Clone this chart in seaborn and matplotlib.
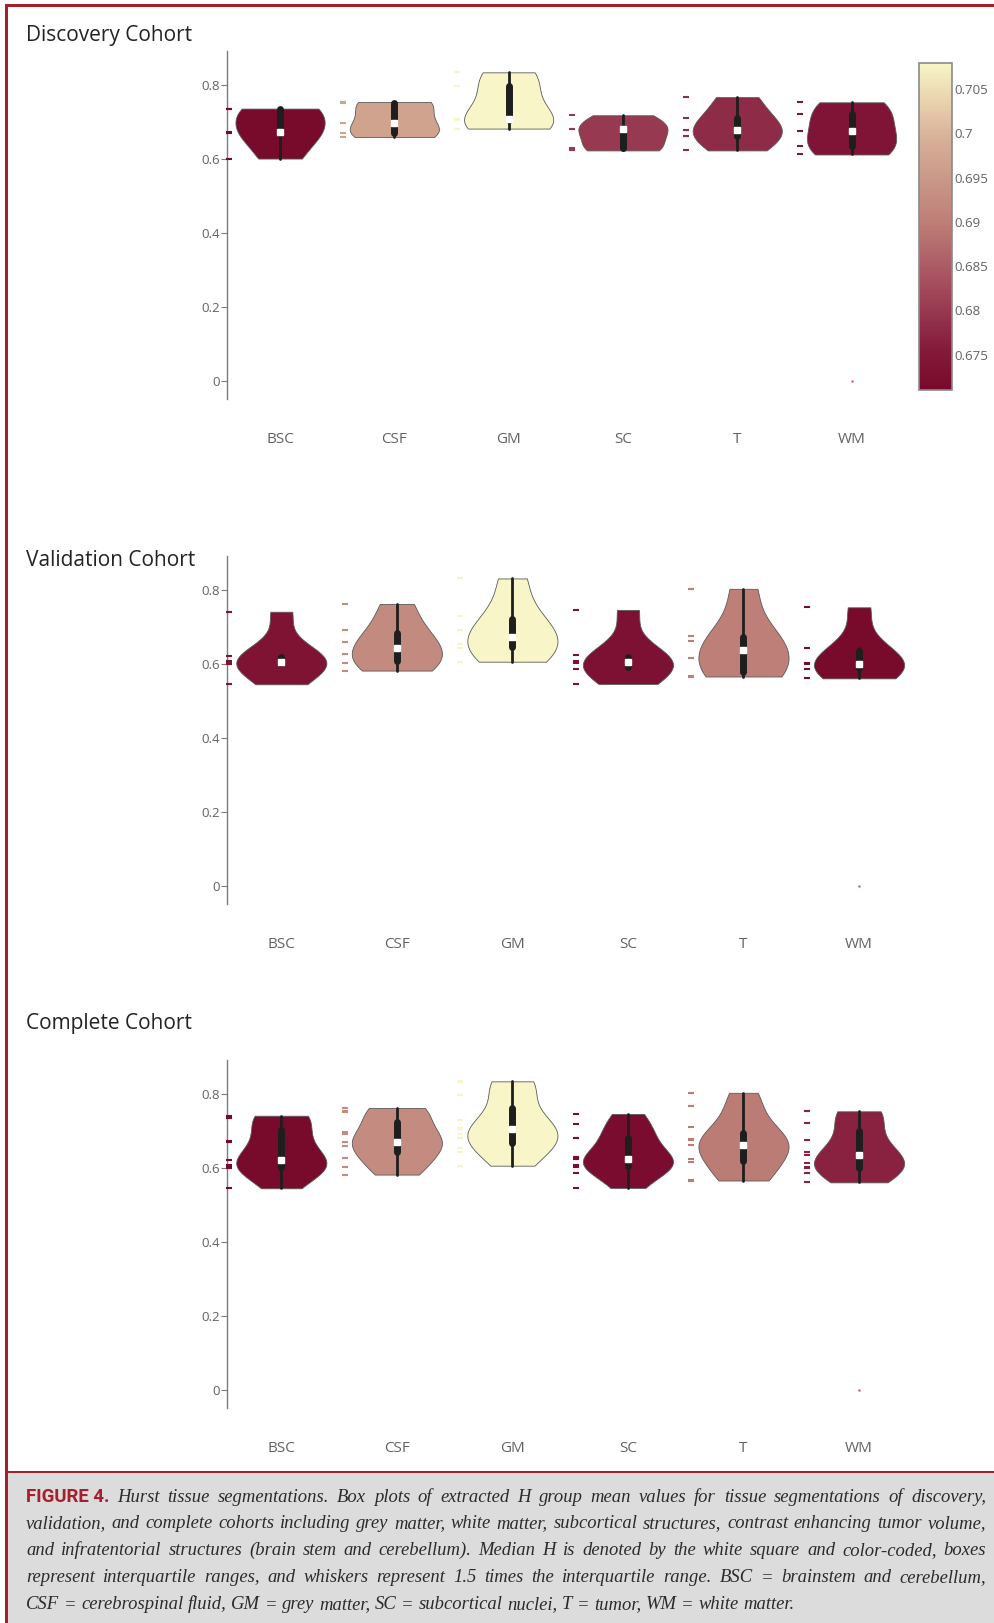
import numpy as np
import pandas as pd
import matplotlib
matplotlib.use("Agg")
import matplotlib.pyplot as plt
import seaborn as sns
from matplotlib.colors import LinearSegmentedColormap, Normalize
from matplotlib.cm import ScalarMappable
from matplotlib.collections import PolyCollection
from matplotlib.patches import Rectangle
from matplotlib.ticker import FixedLocator, FuncFormatter, MultipleLocator
from matplotlib import font_manager

# ---------------------------------------------------------------- data
tissues = ["BSC", "CSF", "GM", "SC", "T", "WM"]

# Hurst exponent group means per subject, discovery cohort
disc_bsc = [0.600, 0.669, 0.671, 0.733, 0.735]
disc_csf = [0.658, 0.669, 0.697, 0.750, 0.753]
disc_gm = [0.681, 0.704, 0.708, 0.795, 0.833]
disc_sc = [0.622, 0.629, 0.680, 0.680, 0.717]
disc_t = [0.622, 0.662, 0.678, 0.710, 0.766]
disc_wm = [0.611, 0.633, 0.674, 0.721, 0.752]

# validation cohort
val_bsc = [0.544, 0.600, 0.603, 0.607, 0.620, 0.740]
val_csf = [0.581, 0.602, 0.625, 0.657, 0.690, 0.761]
val_gm = [0.605, 0.641, 0.653, 0.690, 0.729, 0.830]
val_sc = [0.545, 0.586, 0.602, 0.606, 0.622, 0.745]
val_t = [0.565, 0.566, 0.614, 0.660, 0.674, 0.802]
val_wm = [0.560, 0.586, 0.598, 0.602, 0.643, 0.752]

# single zero-valued WM measurement shown as a stray point
wm_zero = [0.0]

y_ticks = [0, 0.2, 0.4, 0.6, 0.8]
titles = ["Discovery Cohort", "Validation Cohort", "Complete Cohort"]

caption_lines = [
    "Hurst tissue segmentations. Box plots of extracted H group mean values for tissue segmentations of discovery,",
    "validation, and complete cohorts including grey matter, white matter, subcortical structures, contrast enhancing tumor volume,",
    "and infratentorial structures (brain stem and cerebellum). Median H is denoted by the white square and color-coded, boxes",
    "represent interquartile ranges, and whiskers represent 1.5 times the interquartile range. BSC = brainstem and cerebellum,",
    "CSF = cerebrospinal fluid, GM = grey matter, SC = subcortical nuclei, T = tumor, WM = white matter.",
]
caption_label = "FIGURE 4."


def cohort_frame(bsc, csf, gm, sc, t, wm):
    rows = []
    for name, vals in zip(tissues, [bsc, csf, gm, sc, t, wm]):
        rows += [(name, v) for v in vals]
    return pd.DataFrame(rows, columns=["tissue", "H"])


df_disc = cohort_frame(disc_bsc, disc_csf, disc_gm, disc_sc, disc_t, disc_wm)
df_val = cohort_frame(val_bsc, val_csf, val_gm, val_sc, val_t, val_wm)
df_all = pd.concat([df_disc, df_val], ignore_index=True)
cohorts = [df_disc, df_val, df_all]

# ---------------------------------------------------------------- style
sns.set_theme(style="white")


def first_font(names, fallback="DejaVu Sans"):
    avail = {f.name for f in font_manager.fontManager.ttflist}
    for n in names:
        if n in avail:
            return n
    return fallback


SANS = first_font(["Open Sans", "Noto Sans", "DejaVu Sans"])
SERIF = first_font(["Liberation Serif", "DejaVu Serif"])
NARROW = first_font(["Liberation Sans Narrow", "DejaVu Sans Condensed", "Roboto", "Liberation Sans"])
plt.rcParams["font.family"] = [SANS, "DejaVu Sans"]

cmap = LinearSegmentedColormap.from_list(
    "hurst",
    [(0.00, "#780a2c"), (0.12, "#841a3b"), (0.25, "#983b52"), (0.38, "#ac5c66"),
     (0.51, "#bd7e77"), (0.64, "#c99787"), (0.77, "#d7b198"), (0.90, "#ebd7b1"),
     (1.00, "#f8f6c8")],
)

W, H = 994, 1623
fig = plt.figure(figsize=(W / 100, H / 100), dpi=100)
fig.patch.set_facecolor("white")


def fx(px):
    return px / W


def fy(px):
    return 1 - px / H


AX_TOP = [50.5, 555.5, 1059.5]
AX_HEIGHT = 348.2
AX_LEFT = 227.0
AX_RIGHT = [908.7, 916.8, 916.8]
X_LEFT = [-0.464, -0.470, -0.470]
YLIM = (-0.049, 0.892)
TITLE_Y = [36, 561, 1023]
RUG_OFFSET = -0.45
AXIS_GREY = "#7c7c7c"
LABEL_GREY = "#626262"

for k, df in enumerate(cohorts):
    top = AX_TOP[k]
    ax = fig.add_axes([fx(AX_LEFT), fy(top + AX_HEIGHT),
                       fx(AX_RIGHT[k] - AX_LEFT), AX_HEIGHT / H])
    medians = df.groupby("tissue")["H"].median().reindex(tissues)
    norm = Normalize(vmin=medians.min(), vmax=medians.max())
    pal = {t: cmap(norm(medians[t])) for t in tissues}

    sns.violinplot(
        data=df, x="tissue", y="H", hue="tissue", order=tissues,
        hue_order=tissues, palette=pal, legend=False, cut=0, width=0.78,
        density_norm="width", inner="box", saturation=1,
        inner_kws=dict(box_width=5.0, whis_width=2.0, marker="s"),
        linewidth=0.8, linecolor="#1e1e1e", ax=ax,
    )
    for coll in ax.collections:
        if isinstance(coll, PolyCollection):
            coll.set_edgecolor("#5a5a5a")
            coll.set_linewidth(0.6)

    # individual subjects as short dashes to the left of each violin
    for i, t in enumerate(tissues):
        vals = df.loc[df["tissue"] == t, "H"].to_numpy()
        ax.scatter(np.full(len(vals), i + RUG_OFFSET), vals, marker="_",
                   s=22, linewidths=1.5, color=pal[t], zorder=4,
                   clip_on=False)
    ax.scatter([tissues.index("WM")], wm_zero, s=3, color="#d2527c",
               linewidths=0, zorder=4)

    ax.set_xlim(X_LEFT[k], 5.5)
    ax.set_ylim(*YLIM)
    ax.set_xlabel("")
    ax.set_ylabel("")
    for side in ["top", "right", "bottom"]:
        ax.spines[side].set_visible(False)
    ax.spines["left"].set_color(AXIS_GREY)
    ax.spines["left"].set_linewidth(1.0)
    ax.yaxis.set_major_locator(FixedLocator(y_ticks))
    ax.yaxis.set_major_formatter(FuncFormatter(lambda v, p: f"{v:g}"))
    ax.tick_params(axis="y", direction="out", length=4, width=0.8,
                   color=AXIS_GREY, labelcolor=LABEL_GREY, labelsize=9.5,
                   pad=1, left=True)
    ax.tick_params(axis="x", length=0, pad=24, labelcolor=LABEL_GREY,
                   labelsize=11)
    for lab in ax.get_xticklabels():
        lab.set_x(lab.get_position()[0])
    ax.set_facecolor("none")

    fig.text(fx(26), fy(TITLE_Y[k]), titles[k], fontsize=15, color="#232323",
             va="center", ha="left")

    if k == 0:
        cax = fig.add_axes([fx(919), fy(390), fx(33), 327.5 / H])
        cb = fig.colorbar(ScalarMappable(norm=norm, cmap=cmap), cax=cax)
        cb.outline.set_edgecolor("#8a8a8a")
        cb.outline.set_linewidth(1.2)
        cb.ax.yaxis.set_major_locator(MultipleLocator(0.005))
        cb.ax.yaxis.set_major_formatter(FuncFormatter(lambda v, p: f"{v:g}"))
        cb.ax.tick_params(length=0, pad=1.5, labelsize=9.5,
                          labelcolor=LABEL_GREY)

# ---------------------------------------------------------------- frame
RED = "#a5202c"
fig.add_artist(Rectangle((fx(7), fy(1623)), fx(987), (1623 - 1472) / H,
                         transform=fig.transFigure, facecolor="#dcdcdc",
                         edgecolor="none", zorder=0))
fig.add_artist(Rectangle((fx(5), fy(1623)), fx(2.6), (1623 - 4) / H,
                         transform=fig.transFigure, facecolor=RED,
                         edgecolor="none", zorder=5))
fig.add_artist(Rectangle((fx(5), fy(7)), fx(989), 2.8 / H,
                         transform=fig.transFigure, facecolor=RED,
                         edgecolor="none", zorder=5))
fig.add_artist(Rectangle((fx(7), fy(1473)), fx(987), 1.8 / H,
                         transform=fig.transFigure, facecolor=RED,
                         edgecolor="none", zorder=5))

# ---------------------------------------------------------------- caption
renderer = fig.canvas.get_renderer()
CAP_X0, CAP_X1 = 26.0, 986.0
CAP_BASE = [1502, 1528, 1555, 1582, 1609]
ital = dict(family=[SERIF, "DejaVu Serif"], style="italic", color="#2b2b2b")
bold = dict(family=[NARROW, "DejaVu Sans"], weight="bold", color=RED)

# choose a size so the longest justified line keeps near-normal spacing
probe = fig.text(0, 0, caption_lines[1], fontsize=10, **ital)
w10 = probe.get_window_extent(renderer).width
probe.remove()
cap_size = 10 * (CAP_X1 - CAP_X0) * 0.99 / w10
cap_size = min(cap_size, 14.0)


def place_line(tokens, base_px, justify):
    arts = [fig.text(0, fy(base_px), txt, va="baseline", ha="left", **kw)
            for txt, kw in tokens]
    widths = [a.get_window_extent(renderer).width for a in arts]
    if justify and len(arts) > 1:
        gap = (CAP_X1 - CAP_X0 - sum(widths)) / (len(arts) - 1)
    else:
        sp = fig.text(0, 0, "a a", fontsize=cap_size, **ital)
        nsp = fig.text(0, 0, "aa", fontsize=cap_size, **ital)
        gap = (sp.get_window_extent(renderer).width
               - nsp.get_window_extent(renderer).width)
        sp.remove()
        nsp.remove()
    x = CAP_X0
    for a, w in zip(arts, widths):
        a.set_x(fx(x))
        x += w + gap


for li, line in enumerate(caption_lines):
    tokens = [(w, dict(fontsize=cap_size, **ital)) for w in line.split(" ")]
    if li == 0:
        tokens = [(caption_label, dict(fontsize=cap_size, **bold))] + tokens
    place_line(tokens, CAP_BASE[li], justify=li < len(caption_lines) - 1)

fig.savefig("out.png", dpi=100, facecolor="white")
